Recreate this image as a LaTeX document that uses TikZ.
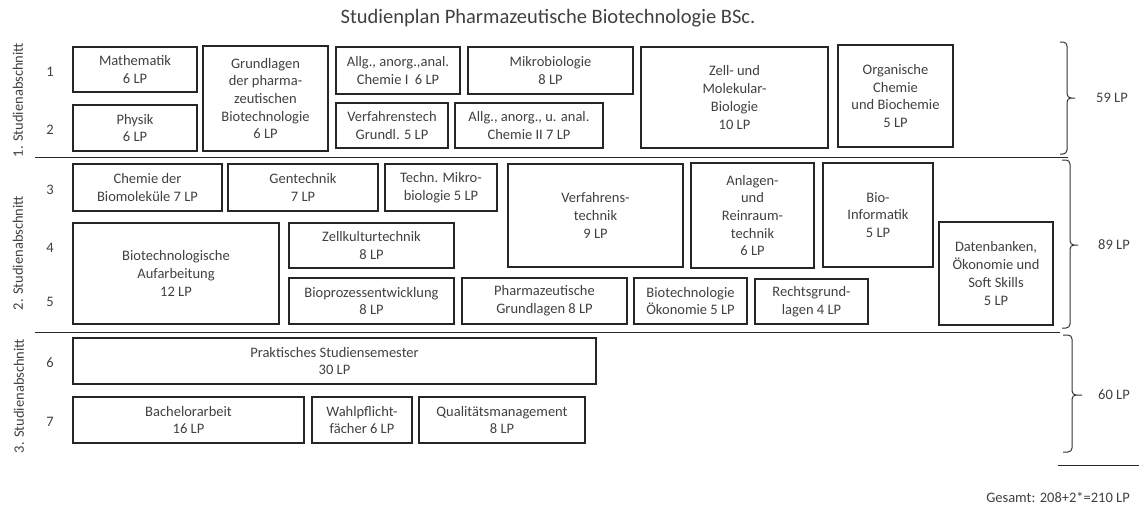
\documentclass[tikz,border=0pt]{standalone}
\usepackage{fontspec}
\setmainfont{Carlito}
\tikzset{
    modul/.style={draw=black!85,line width=1.1pt,align=center,inner sep=1pt,text=black!75,font=\fontsize{14.5}{17.7}\selectfont},
    beschr/.style={text=black!75,font=\fontsize{14.5}{17.7}\selectfont},
    summe/.style={line width=1pt,draw=black!80,rounded corners=4pt},
}
\begin{document}
\begin{tikzpicture}[x=1pt,y=-1pt]
    \useasboundingbox(0,0)rectangle(1139,504);
    \node[beschr,font=\fontsize{20.5}{24}\selectfont](titel)at(548,18){Studienplan Pharmazeutische Biotechnologie BSc.};

    % Abschnitte und Semester
    \node[beschr,rotate=90](abs1)at(18,100){1. Studienabschnitt};
    \node[beschr,rotate=90](abs2)at(18,253){2. Studienabschnitt};
    \node[beschr,rotate=90](abs3)at(19,396){3. Studienabschnitt};
    \foreach \s/\y in {1/72,2/130,3/190,4/248,5/302,6/363,7/422}
        \node[beschr](sem\s)at(50,\y){\s};
    \draw[line width=1pt,black!85](35,157)--(1068,157);
    \draw[line width=1pt,black!85](35,332)--(1060,332);

    % 1. Studienabschnitt
    \node[modul,minimum width=124,minimum height=45](mathe)at(135,69.5){Mathematik\\6 LP};
    \node[modul,minimum width=124,minimum height=46](physik)at(135,128){Physik\\6 LP};
    \node[modul,minimum width=125,minimum height=105](grundl)at(265.5,98.5){Grundlagen\\der pharma-\\zeutischen\\Biotechnologie\\6 LP};
    \node[modul,minimum width=124,minimum height=47](chemie1)at(398,70.5){Allg., anorg.,anal.\\Chemie I~ 6 LP};
    \node[modul,minimum width=165,minimum height=47](mikro)at(550.5,70.5){Mikrobiologie\\8 LP};
    \node[modul,minimum width=112,minimum height=45](vtgrundl)at(392,125.5){Verfahrenstech\\Grundl. 5 LP};
    \node[modul,minimum width=148,minimum height=45](chemie2)at(529,125.5){Allg., anorg., u. anal.\\Chemie II 7 LP};
    \node[modul,minimum width=187,minimum height=101](zellbio)at(734.5,97.5){Zell- und\\Molekular-\\Biologie\\10 LP};
    \node[modul,minimum width=115,minimum height=102](orgchem)at(895.5,96){Organische\\Chemie\\und Biochemie\\5 LP};

    % 2. Studienabschnitt
    \node[modul,minimum width=149,minimum height=47](biomol)at(147.5,187.5){Chemie der\\Biomoleküle 7 LP};
    \node[modul,minimum width=150,minimum height=47](gentech)at(303,187.5){Gentechnik\\7 LP};
    \node[modul,minimum width=112,minimum height=47](techmikro)at(441,187.5){Techn. Mikro-\\biologie 5 LP};
    \node[modul,minimum width=206,minimum height=101](aufarb)at(176,273.5){Biotechnologische\\Aufarbeitung\\12 LP};
    \node[modul,minimum width=165,minimum height=45](zellkultur)at(371.5,245.5){Zellkulturtechnik\\8 LP};
    \node[modul,minimum width=165,minimum height=46](bioprozess)at(371.5,301){Bioprozessentwicklung\\8 LP};
    \node[modul,minimum width=175,minimum height=103](vtechnik)at(595.5,215.5){Verfahrens-\\technik\\9 LP};
    \node[modul,minimum width=123,minimum height=105](anlagen)at(752.5,215.5){Anlagen-\\und\\Reinraum-\\technik\\6 LP};
    \node[modul,minimum width=110,minimum height=104](bioinfo)at(878,215){Bio-\\Informatik\\5 LP};
    \node[modul,minimum width=165,minimum height=46](pharmgrundl)at(544.5,301){Pharmazeutische\\Grundlagen 8 LP};
    \node[modul,minimum width=113,minimum height=46](oekonomie)at(690.5,301){Biotechnologie\\Ökonomie 5 LP};
    \node[modul,minimum width=113,minimum height=45](recht)at(811.5,301.5){Rechtsgrund-\\lagen 4 LP};
    \node[modul,minimum width=114,minimum height=103](datenbank)at(996,273.5){Datenbanken,\\Ökonomie und\\Soft Skills\\5 LP};

    % 3. Studienabschnitt
    \node[modul,minimum width=523,minimum height=46](praxis)at(334.5,361){Praktisches Studiensemester\\30 LP};
    \node[modul,minimum width=231,minimum height=46](bachelor)at(188.5,420){Bachelorarbeit\\16 LP};
    \node[modul,minimum width=100,minimum height=46](wahlpflicht)at(362,420){Wahlpflicht-\\fächer 6 LP};
    \node[modul,minimum width=166,minimum height=46](quali)at(502,420){Qualitätsmanagement\\8 LP};

    % Summen
    \draw[summe](1060,42)-|(1067,98)--(1075,98) (1075,98)--(1067,98)|-(1060,154);
    \draw[summe](1062,160)-|(1070,245)--(1078,245) (1078,245)--(1070,245)|-(1062,328);
    \draw[summe](1063,335)-|(1072,395)--(1082,395) (1082,395)--(1072,395)|-(1063,452);
    \node[beschr](lp1)at(1112,98){59 LP};
    \node[beschr](lp2)at(1114,245){89 LP};
    \node[beschr](lp3)at(1114,395){60 LP};
    \draw[line width=1pt,black!85](1058,465)--(1139,465);
    \node[beschr](gesamt)at(1058,497){Gesamt: 208+2*=210 LP};
\end{tikzpicture}
\end{document}
